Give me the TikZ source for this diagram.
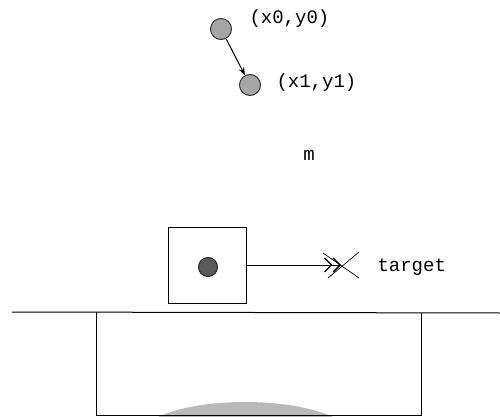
\documentclass[tikz,border=0pt]{standalone}
\usepackage{fontspec}
\setmainfont{Liberation Mono}
\usetikzlibrary{arrows.meta}
\tikzset{
    ball/.style={circle, draw=black!80, fill=gray!70, line width=1pt, minimum size=21pt, inner sep=0pt},
    mass/.style={circle, draw=black!85, fill=black!65, line width=1pt, minimum size=19pt, inner sep=0pt},
    lbl/.style={font=\fontsize{19}{21}\selectfont, anchor=west, inner sep=0pt}
}
\begin{document}
\begin{tikzpicture}[x=1pt, y=-1pt, line width=1pt]
    \useasboundingbox (0,0) rectangle (500,417);
    % positions
    \node[ball] (p0) at (221,29) {};
    \node[ball] (p1) at (250,85) {};
    \node[lbl] (l0) at (249,19) {(x0,y0)};
    \node[lbl] (l1) at (276,83) {(x1,y1)};
    \draw[-{Stealth[length=8pt]}] (p0) -- (p1);
    % mass
    \node[lbl, anchor=center] (m) at (309,155) {m};
    % block
    \node[draw, minimum width=78pt, minimum height=76pt, inner sep=0pt] (block) at (207,265) {};
    \node[mass] (dot) at (208,267) {};
    \coordinate (tgt) at (341,265);
    \draw[-{Straight Barb[length=7pt,width=14pt,line width=1.3pt] Straight Barb[length=7pt,width=14pt,line width=1.3pt]}] (block.east |- tgt) -- (tgt);
    \draw[line width=0.7pt] (tgt) ++(-18,-12) -- ++(36,25);
    \draw[line width=0.7pt] (tgt) ++(-13,13) -- ++(31,-26);
    \node[lbl] (tl) at (377,267) {target};
    % ground
    \fill[gray!55] (158,417) .. controls (200,397) and (290,397) .. (333,417) -- cycle;
    \draw (12,312) -- (500,313);
    \draw (96,312) -- (96,415) -- (421,415) -- (421,313);
\end{tikzpicture}
\end{document}
